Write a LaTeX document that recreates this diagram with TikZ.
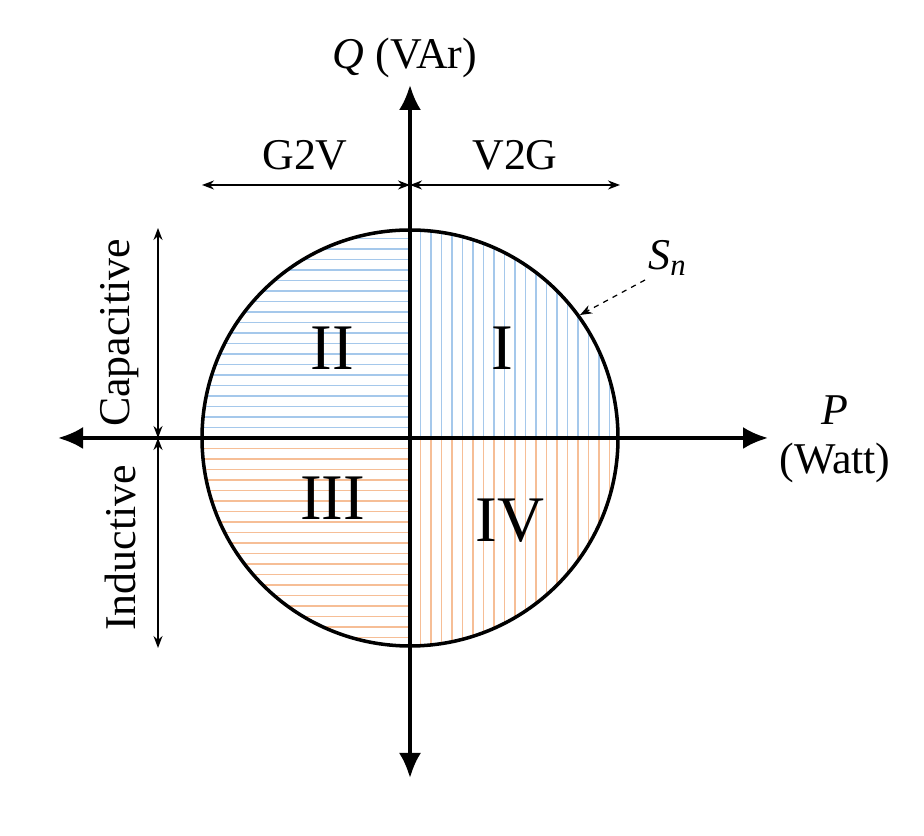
\documentclass[tikz,border=0pt]{standalone}
\usepackage{fontspec}
\setmainfont{Liberation Serif}
\usetikzlibrary{arrows.meta}
\definecolor{hblue}{RGB}{165,200,235}
\definecolor{horange}{RGB}{246,190,150}
\tikzset{
 axis/.style={line width=2pt,-{Latex[length=0.5cm,width=0.44cm]}},
 dim/.style={line width=0.9pt,{Stealth[length=0.24cm,width=0.18cm]}-{Stealth[length=0.24cm,width=0.18cm]}},
 lbl/.style={font=\fontsize{25pt}{27pt}\selectfont},
 quad/.style={font=\fontsize{37pt}{39pt}\selectfont},
 hatch/.style={line width=0.8pt}
}
\begin{document}
\begin{tikzpicture}
\useasboundingbox (0,0) rectangle (18.48,16.72);
\begin{scope}[shift={(8.2,7.96)}]
\def\R{4.16}
\begin{scope}\clip (0,0) -- (\R,0) arc (0:90:\R) -- cycle;
 \foreach \k in {1,...,20} \draw[hblue,hatch] (\k*0.21,0) -- (\k*0.21,\R);\end{scope}
\begin{scope}\clip (0,0) -- (0,\R) arc (90:180:\R) -- cycle;
 \foreach \k in {1,...,20} \draw[hblue,hatch] (-\R,\k*0.21) -- (0,\k*0.21);\end{scope}
\begin{scope}\clip (0,0) -- (-\R,0) arc (180:270:\R) -- cycle;
 \foreach \k in {1,...,20} \draw[horange,hatch] (-\R,-\k*0.21) -- (0,-\k*0.21);\end{scope}
\begin{scope}\clip (0,0) -- (0,-\R) arc (270:360:\R) -- cycle;
 \foreach \k in {1,...,20} \draw[horange,hatch] (\k*0.21,-\R) -- (\k*0.21,0);\end{scope}
\draw[line width=2pt] (0,0) circle (\R);
\coordinate (O) at (0,0);
\coordinate (xl) at (-7.04,0); \coordinate (xr) at (7.16,0);
\coordinate (yt) at (0,7.06); \coordinate (yb) at (0,-6.8);
\draw[axis] (O) -- (xr); \draw[axis] (O) -- (xl);
\draw[axis] (O) -- (yt); \draw[axis] (O) -- (yb);
\node[lbl] (q) at (-0.1,7.6) {\textit{Q} (VAr)};
\node[lbl] (p) at (8.5,0.56) {\textit{P}};
\node[lbl] (w) at (8.5,-0.5) {(Watt)};
\coordinate (gl) at (-4.16,5.06); \coordinate (gm) at (0,5.06); \coordinate (gr) at (4.2,5.06);
\draw[dim] (gl) -- (gm); \draw[dim] (gm) -- (gr);
\node[lbl] (g2v) at (-2.1,5.66) {G2V};
\node[lbl] (v2g) at (2.1,5.66) {V2G};
\coordinate (ct) at (-5.04,4.2); \coordinate (cm) at (-5.04,0); \coordinate (cb) at (-5.04,-4.2);
\draw[dim] (ct) -- (cm); \draw[dim] (cm) -- (cb);
\node[lbl,rotate=90] (cap) at (-5.8,2.1) {Capacitive};
\node[lbl,rotate=90] (ind) at (-5.8,-2.2) {Inductive};
\node[quad] (q1) at (1.85,1.8) {I};
\node[quad] (q2) at (-1.55,1.8) {II};
\node[quad] (q3) at (-1.55,-1.2) {III};
\node[quad] (q4) at (2.0,-1.65) {IV};
\node[lbl] (sn) at (5.15,3.6) {\textit{S\textsubscript{n}}};
\coordinate (snp) at (3.4,2.46);
\draw[dashed,line width=0.7pt,-{Stealth[length=0.24cm,width=0.18cm]}] (4.7,3.16) -- (snp);
\end{scope}
\end{tikzpicture}
\end{document}
